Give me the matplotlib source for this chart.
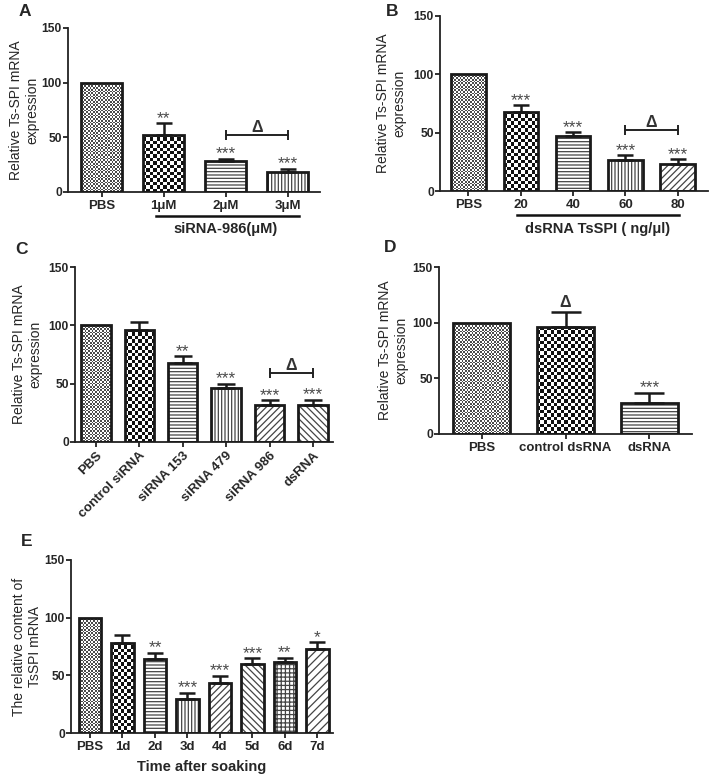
import numpy as np
import matplotlib
matplotlib.use("Agg")
import matplotlib.pyplot as plt
from matplotlib.colors import ListedColormap
from matplotlib.transforms import blended_transform_factory

plt.rcParams['font.family'] = ['Liberation Sans', 'DejaVu Sans']
plt.rcParams['hatch.linewidth'] = 0.9

# ---------------- data ----------------
a_labels = ['PBS', '1μM', '2μM', '3μM']
a_values = [100, 52.2, 27.9, 18.2]
a_errors = [0, 10.7, 2.5, 2.8]
a_stars = ['', '**', '***', '***']

b_labels = ['PBS', '20', '40', '60', '80']
b_values = [100, 67.9, 47.0, 26.3, 23.2]
b_errors = [0, 5.4, 3.4, 4.3, 4.0]
b_stars = ['', '***', '***', '***', '***']

c_labels = ['PBS', 'control siRNA', 'siRNA 153', 'siRNA 479', 'siRNA 986', 'dsRNA']
c_values = [100, 96.3, 67.7, 46.0, 31.4, 31.7]
c_errors = [0, 6.6, 5.7, 3.7, 4.3, 4.6]
c_stars = ['', '', '**', '***', '***', '***']

d_labels = ['PBS', 'control dsRNA', 'dsRNA']
d_values = [100, 96.1, 27.8]
d_errors = [0, 13.5, 9.0]
d_stars = ['', 'Δ', '***']

e_labels = ['PBS', '1d', '2d', '3d', '4d', '5d', '6d', '7d']
e_values = [100, 78.2, 64.3, 29.5, 43.1, 59.6, 61.7, 73.0]
e_errors = [0, 7.2, 5.2, 5.5, 6.7, 5.0, 3.5, 5.5]
e_stars = ['', '', '**', '***', '***', '***', '**', '*']

# delta brackets: (i, j, y)
a_bracket = (2, 3, 52.2)
b_bracket = (3, 4, 52.1)
c_bracket = (4, 5, 59.1)

# ---------------- style ----------------
HATCH = {'h': '-----', 'v': '|||||', 'd': '/////', 'b': '\\\\\\\\\\', 'g': '++++', 'd2': '////'}
TXT = '#262626'

fig = plt.figure(figsize=(7.11, 7.82), dpi=100)


def px_axes(l, t, r, b):
    W, H = 711, 782
    return fig.add_axes([l / W, 1 - b / H, (r - l) / W, (b - t) / H])


def checker(ax, bar, cell_px, dark):
    x0, y0 = bar.get_x(), bar.get_y()
    w, h = bar.get_width(), bar.get_height()
    (p0x, p0y), (p1x, p1y) = ax.transData.transform([(x0, y0), (x0 + w, y0 + h)])
    nx = max(1, int(round((p1x - p0x) / cell_px)))
    ny = max(1, int(round((p1y - p0y) / cell_px)))
    arr = np.add.outer(np.arange(ny), np.arange(nx)) % 2
    im = ax.imshow(arr, cmap=ListedColormap(['white', dark]), extent=(x0, x0 + w, y0, y0 + h),
                   origin='lower', interpolation='nearest', aspect='auto', zorder=2)
    im.set_clip_path(bar)


def panel(ax, labels, values, errors, stars, patterns, xlim, width, capsize):
    x = np.arange(len(values))
    ax.set_xlim(*xlim)
    ax.set_ylim(0, 150)
    bars = ax.bar(x, values, width, color='white', linewidth=0, zorder=1)
    for xi, v, bar, p in zip(x, values, bars, patterns):
        if p == 'fine':
            checker(ax, bar, 1.7, '#4a4a4a')
        elif p == 'check':
            checker(ax, bar, 3.4, '#111111')
        else:
            ax.bar(xi, v, width, color='white', edgecolor='#444444', hatch=HATCH[p],
                   linewidth=0, zorder=2)
    ax.bar(x, values, width, fill=False, edgecolor='#1a1a1a', linewidth=2.0, zorder=3)
    errs = np.array(errors, dtype=float)
    mask = errs > 0
    ax.errorbar(x[mask], np.array(values)[mask], yerr=[np.zeros(mask.sum()), errs[mask]],
                fmt='none', ecolor='#1a1a1a', elinewidth=1.8, capsize=capsize, capthick=1.8,
                zorder=4)
    for xi, v, e, s in zip(x, values, errors, stars):
        if s == 'Δ':
            ax.annotate(s, (xi, v + e), xytext=(0, 3.3), textcoords='offset points',
                        ha='center', va='baseline', fontsize=11.5, color='#333333',
                        fontweight='bold')
        elif s:
            ax.annotate(s, (xi, v + e), xytext=(0, 0.3), textcoords='offset points',
                        ha='center', va='baseline', fontsize=12.5, color='#4a4a4a')
    ax.set_xticks(x)
    ax.set_yticks([0, 50, 100, 150])
    for sp in ['top', 'right']:
        ax.spines[sp].set_visible(False)
    for sp in ['left', 'bottom']:
        ax.spines[sp].set_linewidth(1.3)
        ax.spines[sp].set_color('#222222')
    ax.tick_params(axis='both', length=3.6, width=1.3, color='#222222', labelcolor=TXT)
    ax.tick_params(axis='y', labelsize=8.7, pad=0.8)
    ax.tick_params(axis='x', labelsize=9.5, pad=2)
    for t in ax.get_yticklabels():
        t.set_fontweight('bold')
    return x


def bracket(ax, br):
    i, j, y = br
    ax.plot([i, j], [y, y], color='#222222', lw=1.4, zorder=5)
    ax.plot([i, j], [y, y], ls='none', marker='|', markersize=7, markeredgewidth=1.4,
            color='#222222', zorder=5)
    ax.annotate('Δ', ((i + j) / 2, y), xytext=(0, 2.2), textcoords='offset points',
                ha='center', va='baseline', fontsize=11.5, fontweight='bold', color='#333333')


def underline(ax, x0, x1, yfrac, text, xtext, ytext):
    tr = blended_transform_factory(ax.transData, ax.transAxes)
    ax.plot([x0, x1], [yfrac, yfrac], transform=tr, color='#111111', lw=1.8, clip_on=False)
    ax.text(xtext, ytext, text, transform=tr, ha='center', va='center', fontsize=10.5,
            fontweight='bold', color=TXT)


ylab = 'Relative Ts-SPI mRNA\nexpression'

# ---- A ----
axA = px_axes(68, 28, 320, 192)
panel(axA, a_labels, a_values, a_errors, a_stars, ['fine', 'check', 'h', 'v'],
      (-0.54, 3.52), 0.66, 5.5)
axA.set_xticklabels(a_labels, fontweight='bold')
axA.set_ylabel(ylab, fontsize=10, labelpad=1.5, color=TXT)
bracket(axA, a_bracket)
underline(axA, 0.88, 3.18, -0.146, 'siRNA-986(μM)', 2.0, -0.225)

# ---- B ----
axB = px_axes(440, 16, 708, 191)
panel(axB, b_labels, b_values, b_errors, b_stars, ['fine', 'check', 'h', 'v', 'd'],
      (-0.545, 4.58), 0.66, 6)
axB.set_xticklabels(b_labels, fontweight='bold')
axB.set_ylabel(ylab, fontsize=10, labelpad=5, color=TXT)
bracket(axB, b_bracket)
underline(axB, 0.93, 4.03, -0.139, 'dsRNA TsSPI ( ng/μl)', 2.47, -0.216)

# ---- C ----
axC = px_axes(75, 267, 333, 442)
panel(axC, c_labels, c_values, c_errors, c_stars, ['fine', 'check', 'h', 'v', 'd', 'b'],
      (-0.48, 5.46), 0.68, 6.5)
axC.set_xticklabels(c_labels, fontweight='bold', rotation=45, ha='right',
                    rotation_mode='anchor')
axC.set_ylabel(ylab, fontsize=10, labelpad=4.5, color=TXT)
bracket(axC, c_bracket)

# ---- D ----
axD = px_axes(439, 267, 692, 434)
panel(axD, d_labels, d_values, d_errors, d_stars, ['fine', 'check', 'h'],
      (-0.506, 2.506), 0.68, 11)
axD.set_xticklabels(d_labels, fontweight='bold')
axD.set_ylabel(ylab, fontsize=10, labelpad=3, color=TXT)

# ---- E ----
axE = px_axes(71, 560, 333, 733)
panel(axE, e_labels, e_values, e_errors, e_stars,
      ['fine', 'check', 'h', 'v', 'd', 'b', 'g', 'd2'], (-0.585, 7.48), 0.7, 5.5)
axE.set_xticklabels(e_labels, fontweight='bold')
axE.set_ylabel('The relative content of\nTsSPI mRNA', fontsize=10, labelpad=2, color=TXT)
axE.set_xlabel('Time after soaking', fontsize=10.5, fontweight='bold', color=TXT, labelpad=5)

# panel letters
for lab, (px, py) in zip('ABCDE', [(25, 11), (392, 11), (22, 249), (390, 247), (27, 541)]):
    fig.text(px / 711, 1 - py / 782, lab, fontsize=12.5, fontweight='bold', ha='center',
             va='center', color=TXT)

fig.savefig('out.png', dpi=100)
